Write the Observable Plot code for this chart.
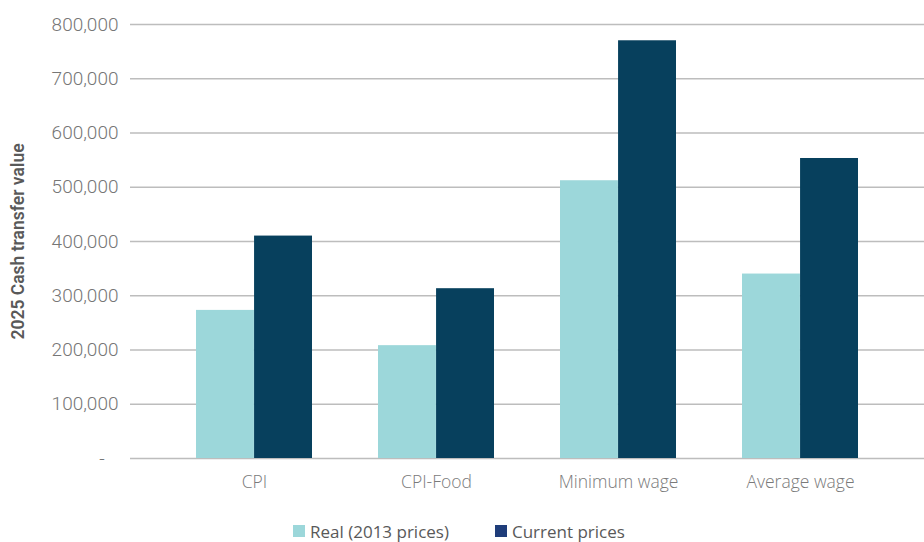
<!DOCTYPE html>
<html>
<head>
<meta charset="utf-8">
<script src="https://cdn.jsdelivr.net/npm/d3@7"></script>
<script src="https://cdn.jsdelivr.net/npm/@observablehq/plot@0.6"></script>
<style>
  html, body { margin: 0; padding: 0; background: #fff; }
  #chart svg { display: block; }
  .legend { display: flex; justify-content: flex-start; align-items: center; height: 22px; padding-top: 15px; padding-left: 293px; font-family: "Open Sans", sans-serif; font-size: 17px; color: #595959; }
  .legend .item { display: flex; align-items: center; margin-right: 46px; }
  .legend .sw { width: 12px; height: 12px; margin-right: 5px; }
</style>
</head>
<body>
<div id="chart"></div>
<div class="legend" id="legend"></div>
<script>
const categories = ["CPI", "CPI-Food", "Minimum wage", "Average wage"];
const realValues = [273000, 208000, 512000, 340000];
const currentValues = [410000, 313000, 770000, 553000];
const seriesNames = ["Real (2013 prices)", "Current prices"];
const barColors = ["#9cd7da", "#07405d"];
const legendColors = ["#9cd7da", "#1f3d7a"];
const yTicks = [0, 100000, 200000, 300000, 400000, 500000, 600000, 700000, 800000];
const yTitle = "2025 Cash transfer value";

const data = categories.map((c, i) => ({category: c, real: realValues[i], current: currentValues[i]}));

const width = 924, height = 505;
const marginLeft = 130, marginRight = 0, marginTop = 24, marginBottom = 47;
const pad = 0.362;
const step = (width - marginLeft - marginRight) / (categories.length + pad);
const half = step * (1 - pad) / 2;

const fmt = d3.format(",");
const chart = Plot.plot({
  width, height, marginLeft, marginRight, marginTop, marginBottom,
  style: {fontFamily: "Roboto, sans-serif", background: "#fff"},
  x: {domain: categories, padding: pad, label: null},
  y: {domain: [0, 800000], label: null},
  marks: [
    Plot.ruleY(yTicks, {stroke: "#bdbdbd", strokeWidth: 1.3}),
    Plot.barY(data, {x: "category", y: "real", fill: barColors[0], insetRight: half}),
    Plot.barY(data, {x: "category", y: "current", fill: barColors[1], insetLeft: half}),
    Plot.axisY({ticks: yTicks, tickSize: 0, tickPadding: 12, label: null,
      tickFormat: d => d === 0 ? "-\u00a0\u00a0\u00a0" : fmt(d),
      fontSize: 19, fontWeight: 300, fill: "#767676"}),
    Plot.axisX({tickSize: 0, tickPadding: 17, label: null,
      fontSize: 17.5, fontWeight: 300, fill: "#7a7a7a", fontFamily: "Open Sans, sans-serif"}),
    Plot.text([yTitle], {frameAnchor: "left", textAnchor: "middle", rotate: -90, dx: -112,
      fontSize: 17.5, fontWeight: 600, fill: "#595959", fontFamily: "Roboto, sans-serif"})
  ]
});
document.getElementById("chart").appendChild(chart);

const legend = document.getElementById("legend");
seriesNames.forEach((name, i) => {
  const item = document.createElement("div");
  item.className = "item";
  const sw = document.createElement("span");
  sw.className = "sw";
  sw.style.background = legendColors[i];
  const t = document.createElement("span");
  t.textContent = name;
  item.appendChild(sw);
  item.appendChild(t);
  legend.appendChild(item);
});
</script>
</body>
</html>
